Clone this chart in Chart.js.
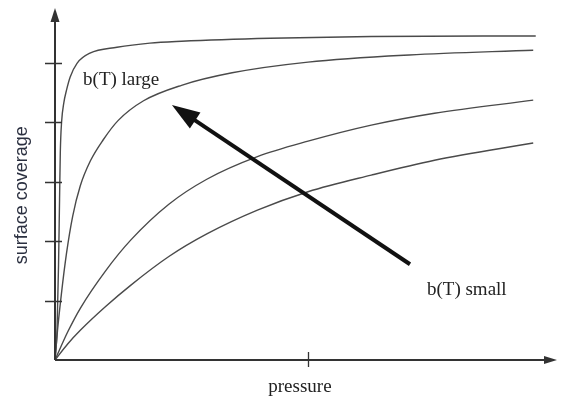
<!DOCTYPE html>
<html>
<head>
<meta charset="utf-8">
<script src="https://cdn.jsdelivr.net/npm/chart.js@4.4.1/dist/chart.umd.min.js"></script>
<style>
  body { margin: 0; background: #fff; }
  #wrap { width: 561px; height: 401px; position: relative; }
</style>
</head>
<body>
<div id="wrap"><canvas id="isoChart"></canvas></div>
<script>
/// DATA ///

// pressure (tick at 1) and surface coverage (ticks at 1..5)
const pres1 = [0, 0.008, 0.014, 0.018, 0.021, 0.026, 0.035, 0.045, 0.060, 0.087, 0.138, 0.245, 0.375, 0.500, 0.850, 1.250, 1.900];
const cov1  = [0, 0.50, 1.60, 2.70, 3.50, 4.00, 4.33, 4.53, 4.76, 4.99, 5.16, 5.26, 5.33, 5.36, 5.41, 5.44, 5.45];

const pres2 = [0, 0.010, 0.025, 0.045, 0.070, 0.100, 0.140, 0.190, 0.250, 0.350, 0.500, 0.700, 1.000, 1.400, 1.890];
const cov2  = [0, 0.50, 1.10, 1.78, 2.42, 2.93, 3.35, 3.70, 4.03, 4.36, 4.62, 4.83, 5.01, 5.13, 5.21];

const pres3 = [0, 0.050, 0.100, 0.200, 0.300, 0.450, 0.600, 0.800, 1.000, 1.250, 1.500, 1.890];
const cov3  = [0, 0.47, 0.87, 1.50, 2.02, 2.62, 3.04, 3.42, 3.68, 3.95, 4.15, 4.37];

const pres4 = [0, 0.050, 0.100, 0.200, 0.300, 0.450, 0.600, 0.800, 1.000, 1.250, 1.500, 1.890];
const cov4  = [0, 0.27, 0.50, 0.90, 1.26, 1.74, 2.12, 2.52, 2.83, 3.11, 3.36, 3.65];

const xTicks = [1];
const yTicks = [1, 2, 3, 4, 5];

const xLabel = 'pressure';
const yLabel = 'surface coverage';
const noteLarge = 'b(T) large';
const noteSmall = 'b(T) small';

// arrow from small b(T) to large b(T), in data units
const arrowFrom = { x: 1.403, y: 1.61 };
const arrowTo = { x: 0.462, y: 4.29 };


/// HELPERS ///

function toPoints(xs, ys) {
    return xs.map((x, i) => ({ x: x, y: ys[i] }));
}

function makeSet(xs, ys) {
    return {
        data: toPoints(xs, ys),
        borderColor: '#4a4a4a',
        borderWidth: 1.4,
        pointRadius: 0,
        fill: false,
        cubicInterpolationMode: 'monotone'
    };
}

function arrowHead(ctx, tipX, tipY, fromX, fromY, len, half) {
    const ang = Math.atan2(tipY - fromY, tipX - fromX);
    ctx.beginPath();
    ctx.moveTo(tipX, tipY);
    ctx.lineTo(tipX - len * Math.cos(ang) + half * Math.sin(ang), tipY - len * Math.sin(ang) - half * Math.cos(ang));
    ctx.lineTo(tipX - len * Math.cos(ang) - half * Math.sin(ang), tipY - len * Math.sin(ang) + half * Math.cos(ang));
    ctx.closePath();
    ctx.fill();
}


/// AXES + NOTES PLUGIN ///

const sketchPlugin = {
    id: 'sketch',
    afterDatasetsDraw(chart) {
        const ctx = chart.ctx;
        const xs = chart.scales.x;
        const ys = chart.scales.y;
        const ox = xs.getPixelForValue(0);
        const oy = ys.getPixelForValue(0);
        const right = xs.right;
        const top = ys.top;

        ctx.save();
        ctx.strokeStyle = '#333';
        ctx.fillStyle = '#333';
        ctx.lineWidth = 2;

        // axis lines
        ctx.beginPath();
        ctx.moveTo(ox, oy);
        ctx.lineTo(ox, top + 6);
        ctx.moveTo(ox, oy);
        ctx.lineTo(right - 6, oy);
        ctx.stroke();
        arrowHead(ctx, ox, top, ox, oy, 14, 4.5);
        arrowHead(ctx, right, oy, ox, oy, 13, 4);

        // tick marks
        ctx.lineWidth = 1.3;
        ctx.beginPath();
        yTicks.forEach(v => {
            const py = Math.round(ys.getPixelForValue(v)) + 0.5;
            ctx.moveTo(ox - 10, py);
            ctx.lineTo(ox + 7, py);
        });
        xTicks.forEach(v => {
            const px = Math.round(xs.getPixelForValue(v)) + 0.5;
            ctx.moveTo(px, oy - 8);
            ctx.lineTo(px, oy + 7);
        });
        ctx.stroke();

        // big arrow
        const ax0 = xs.getPixelForValue(arrowFrom.x), ay0 = ys.getPixelForValue(arrowFrom.y);
        const ax1 = xs.getPixelForValue(arrowTo.x), ay1 = ys.getPixelForValue(arrowTo.y);
        const ang = Math.atan2(ay1 - ay0, ax1 - ax0);
        ctx.strokeStyle = '#111';
        ctx.fillStyle = '#111';
        ctx.lineWidth = 4;
        ctx.beginPath();
        ctx.moveTo(ax0, ay0);
        ctx.lineTo(ax1 - 18 * Math.cos(ang), ay1 - 18 * Math.sin(ang));
        ctx.stroke();
        arrowHead(ctx, ax1, ay1, ax0, ay0, 28, 9.5);

        // texts
        ctx.fillStyle = '#222';
        ctx.font = '19px "Liberation Serif", "Times New Roman", serif';
        ctx.textBaseline = 'alphabetic';
        ctx.textAlign = 'center';
        ctx.fillText(xLabel, xs.getPixelForValue(0.968), 392);
        ctx.textAlign = 'left';
        ctx.fillText(noteLarge, xs.getPixelForValue(0.111), ys.getPixelForValue(4.62));
        ctx.fillText(noteSmall, xs.getPixelForValue(1.47), ys.getPixelForValue(1.10));

        ctx.fillStyle = '#2b3040';
        ctx.font = '18px "Liberation Sans", Arial, sans-serif';
        ctx.textAlign = 'center';
        ctx.textBaseline = 'middle';
        ctx.translate(22, ys.getPixelForValue(2.77));
        ctx.rotate(-Math.PI / 2);
        ctx.fillText(yLabel, 0, 0);

        ctx.restore();
    }
};


/// CHART ///

const ctx = document.getElementById('isoChart').getContext('2d');

const config = {
    type: 'line',
    plugins: [sketchPlugin],
    data: {
        datasets: [
            makeSet(pres1, cov1),
            makeSet(pres2, cov2),
            makeSet(pres3, cov3),
            makeSet(pres4, cov4)
        ]
    },
    options: {
        responsive: true,
        maintainAspectRatio: false,
        animation: false,
        layout: {
            padding: { left: 55, right: 4, top: 8, bottom: 41 }
        },
        scales: {
            x: { type: 'linear', min: 0, max: 1.984, display: false },
            y: { type: 'linear', min: 0, max: 5.92, display: false }
        },
        plugins: {
            legend: { display: false },
            tooltip: { enabled: false }
        }
    }
};

const isoChart = new Chart(ctx, config);
</script>
</body>
</html>
